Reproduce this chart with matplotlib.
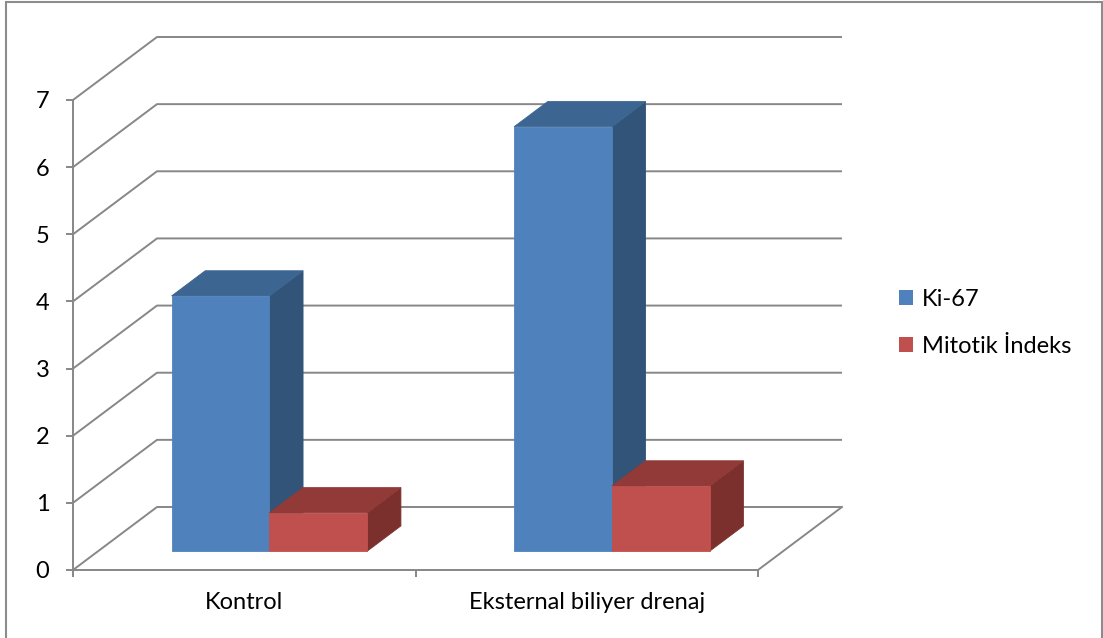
import matplotlib.pyplot as plt
from matplotlib.patches import Polygon, Rectangle, Patch

plt.rcParams['font.family'] = ['Lato', 'DejaVu Sans']

categories = ['Kontrol', 'Eksternal biliyer drenaj']
series_names = ['Ki-67', 'Mitotik İndeks']
ki67 = [3.80, 6.32]
mitotik = [0.57, 0.97]
y_ticks = [0, 1, 2, 3, 4, 5, 6, 7]

front_colors = ['#4f81bd', '#c0504d']
top_colors = ['#3d6591', '#913a38']
side_colors = ['#325479', '#7b302e']
grid_col = '#878787'
fs = 17

W, H = 1103, 638
fig = plt.figure(figsize=(W / 100, H / 100), dpi=100)
# front plane of the 3d box: x 0..2 (categories), y 0..7
ax = fig.add_axes([73 / W, (H - 570) / H, 685 / W, 470 / H])
ax.set_xlim(0, 2)
ax.set_ylim(0, 7)
ax.patch.set_visible(False)

# oblique depth offset of the back wall, in data units
dx, dy = 84 / 342.5, 63 / 67.14

# walls: side diagonals and back gridlines
for v in y_ticks:
    ax.plot([0, dx, 2 + dx], [v, v + dy, v + dy], color=grid_col, lw=1.4,
            clip_on=False, zorder=1, solid_capstyle='butt')
ax.plot([2, 2 + dx], [0, dy], color=grid_col, lw=1.4, clip_on=False, zorder=1)

# bars (gap width 150%, gap depth 150%)
bw = 1 / 3.5
f0, f1 = 0.3, 0.7
for c in range(len(categories)):
    for s, vals in enumerate([ki67, mitotik]):
        v = vals[c]
        x0 = c + 0.75 * bw + s * bw
        x1 = x0 + bw
        ox0, oy0 = f0 * dx, f0 * dy
        ox1, oy1 = f1 * dx, f1 * dy
        z = 3 + c * 2 + s
        front = [(x0 + ox0, oy0), (x1 + ox0, oy0), (x1 + ox0, v + oy0), (x0 + ox0, v + oy0)]
        top = [(x0 + ox0, v + oy0), (x1 + ox0, v + oy0), (x1 + ox1, v + oy1), (x0 + ox1, v + oy1)]
        side = [(x1 + ox0, oy0), (x1 + ox1, oy1), (x1 + ox1, v + oy1), (x1 + ox0, v + oy0)]
        for pts, col in [(side, side_colors[s]), (top, top_colors[s]), (front, front_colors[s])]:
            ax.add_patch(Polygon(pts, closed=True, facecolor=col, edgecolor=col,
                                 lw=0.6, clip_on=False, zorder=z))

# axes
for sp in ['top', 'right']:
    ax.spines[sp].set_visible(False)
for sp in ['left', 'bottom']:
    ax.spines[sp].set_color(grid_col)
    ax.spines[sp].set_linewidth(1.4)
    ax.spines[sp].set_zorder(2)
ax.set_yticks(y_ticks)
ax.set_yticklabels([str(t) for t in y_ticks])
ax.tick_params(axis='y', direction='out', length=5, width=1.4, color=grid_col,
               pad=12, labelsize=fs)
ax.set_xticks([0, 1, 2])
ax.set_xticklabels(['', '', ''])
ax.set_xticks([0.5, 1.5], minor=True)
ax.set_xticklabels(categories, minor=True)
ax.tick_params(axis='x', which='major', direction='out', length=5, width=1.4,
               color=grid_col)
ax.tick_params(axis='x', which='minor', length=0, pad=16, labelsize=fs)

handles = [Patch(facecolor=front_colors[i], edgecolor='none') for i in range(2)]
fig.legend(handles, series_names, loc='center left',
           bbox_to_anchor=(899 / W, 1 - 323 / H), frameon=False, fontsize=fs,
           handlelength=0.6, handleheight=0.6, handletextpad=0.38,
           labelspacing=1.1, borderpad=0, borderaxespad=0)

# chart border
fig.add_artist(Rectangle((6 / W, -0.05), (1101.5 - 6) / W, 1.05 - 1.7 / H,
                         transform=fig.transFigure, fill=False,
                         edgecolor='#8c8c8c', lw=1.5))

fig.savefig('out.png', dpi=100)
